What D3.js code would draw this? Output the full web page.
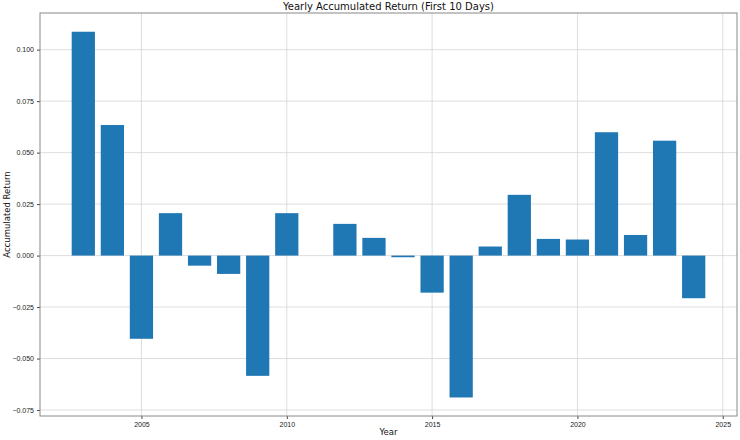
<!DOCTYPE html>
<html><head><meta charset="utf-8">
<script src="https://cdn.jsdelivr.net/npm/d3@7"></script>
<style>body{margin:0;background:#fff;}svg{display:block;font-family:"DejaVu Sans",sans-serif;}</style>
</head><body>
<script>
const years = [2003,2004,2005,2006,2007,2008,2009,2010,2011,2012,2013,2014,2015,2016,2017,2018,2019,2020,2021,2022,2023,2024];
const returns = [0.1087,0.0634,-0.0404,0.0206,-0.0049,-0.0089,-0.0584,0.0206,0.0,0.0154,0.0086,-0.0008,-0.0180,-0.0689,0.0044,0.0295,0.0081,0.0078,0.0599,0.0100,0.0558,-0.0207];
const xTicks = [2005,2010,2015,2020,2025];
const yTicks = [-0.075,-0.05,-0.025,0,0.025,0.05,0.075,0.1];
const title = "Yearly Accumulated Return (First 10 Days)";
const xLabel = "Year", yLabel = "Accumulated Return";

const W=740,H=440, m={l:40,r:3,t:13,b:24};
const svg=d3.select("body").append("svg").attr("width",W).attr("height",H);
const x=d3.scaleLinear().domain([2001.51,2025.49]).range([m.l,W-m.r]);
const y=d3.scaleLinear().domain([-0.0779,0.1178]).range([H-m.b,m.t]);
const g=svg.append("g");
// grid
g.selectAll(".gy").data(yTicks).join("line").attr("x1",m.l).attr("x2",W-m.r)
 .attr("y1",d=>y(d)).attr("y2",d=>y(d)).attr("stroke","#d6d6d6").attr("stroke-width",0.8);
g.selectAll(".gx").data(xTicks).join("line").attr("y1",m.t).attr("y2",H-m.b)
 .attr("x1",d=>x(d)).attr("x2",d=>x(d)).attr("stroke","#d6d6d6").attr("stroke-width",0.8);
// bars
const bw = x(2000.8)-x(2000);
g.selectAll(".bar").data(years.map((yr,i)=>({yr,v:returns[i]}))).join("rect")
 .attr("x",d=>x(d.yr)-bw/2).attr("width",bw)
 .attr("y",d=>y(Math.max(0,d.v))).attr("height",d=>Math.abs(y(d.v)-y(0)))
 .attr("fill","#1f77b4");
// axes
const xa=svg.append("g").attr("transform",`translate(0,${H-m.b})`)
 .call(d3.axisBottom(x).tickValues(xTicks).tickFormat(d3.format("d")).tickSize(3).tickPadding(3));
const ya=svg.append("g").attr("transform",`translate(${m.l},0)`)
 .call(d3.axisLeft(y).tickValues(yTicks).tickFormat(d=>d3.format(".3f")(d).replace("-","\u2212")).tickSize(3).tickPadding(3));
[xa,ya].forEach(a=>{a.selectAll("text").attr("font-size",7).attr("fill","#222");a.selectAll(".tick line").attr("stroke","#444");a.select(".domain").remove();});
// frame
svg.append("rect").attr("x",m.l).attr("y",m.t).attr("width",W-m.r-m.l).attr("height",H-m.b-m.t)
 .attr("fill","none").attr("stroke","#888").attr("stroke-width",1);
svg.append("text").attr("x",(m.l+W-m.r)/2).attr("y",10).attr("text-anchor","middle").attr("font-size",10).attr("fill","#111").text(title);
svg.append("text").attr("x",(m.l+W-m.r)/2).attr("y",435).attr("text-anchor","middle").attr("font-size",8.5).attr("fill","#111").text(xLabel);
svg.append("text").attr("transform",`translate(10,${(m.t+H-m.b)/2}) rotate(-90)`).attr("text-anchor","middle").attr("font-size",8.5).attr("fill","#111").text(yLabel);
</script>
</body></html>
